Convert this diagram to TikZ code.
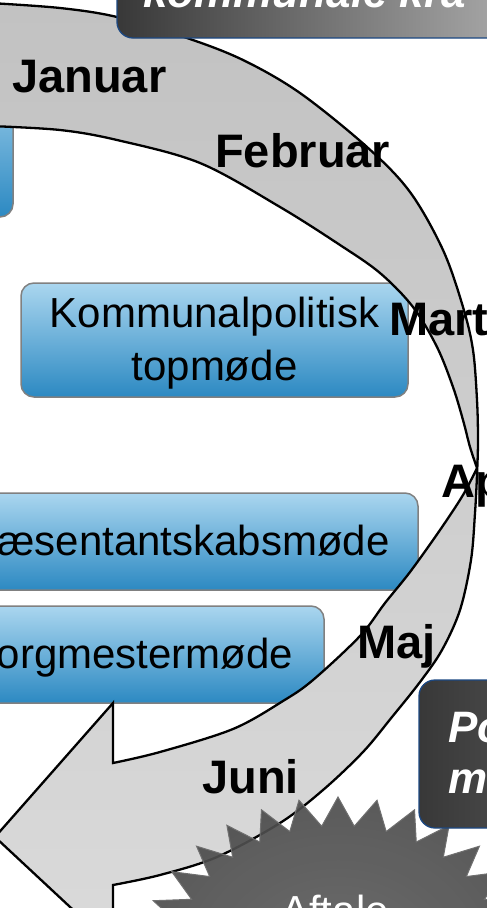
\documentclass[tikz,border=0pt]{standalone}
\usepackage{fontspec}
\setmainfont{Liberation Sans}
\definecolor{boxtop}{RGB}{170,214,239}
\definecolor{boxbot}{RGB}{44,137,194}
\definecolor{boxline}{RGB}{128,128,128}
\definecolor{arrtop}{RGB}{194,194,194}
\definecolor{arrbot}{RGB}{218,218,218}
\definecolor{darkl}{RGB}{56,56,56}
\definecolor{darkr}{RGB}{200,200,200}
\definecolor{darkrb}{RGB}{120,120,120}
\definecolor{navy}{RGB}{28,72,130}
\definecolor{starfill}{RGB}{76,76,76}
\definecolor{starin}{RGB}{96,96,96}
\definecolor{starline}{RGB}{112,112,112}
\begin{document}
\begin{tikzpicture}[x=1pt,y=-1pt,
  bluebox/.style={draw=boxline, line width=1.5pt, rounded corners=13pt, top color=boxtop, bottom color=boxbot, inner sep=0pt},
  darkbox/.style={draw=navy, line width=1.3pt, rounded corners=16pt, inner sep=0pt},
  month/.style={font=\fontsize{47}{56}\selectfont\bfseries, anchor=base west, inner sep=0pt},
  boxtext/.style={font=\fontsize{42}{50}\selectfont, anchor=base, inner sep=0pt},
  darktext/.style={font=\fontsize{44}{52}\selectfont\bfseries\itshape, text=white, anchor=base west, inner sep=0pt},
  startext/.style={font=\fontsize{42}{50}\selectfont, text=white, anchor=base, inner sep=0pt},
]
\useasboundingbox (0,0) rectangle (487,908);
\clip (0,0) rectangle (487,908);

% blue boxes
\node[bluebox, minimum width=313pt, minimum height=157pt] (b0) at (-143.5,138.5) {};
\node[bluebox, minimum width=387pt, minimum height=114pt] (b1) at (214.5,340) {};
\node[bluebox, minimum width=540pt, minimum height=97pt] (b2) at (148,541.5) {};
\node[bluebox, minimum width=386pt, minimum height=97pt] (b3) at (131,654.5) {};
\node[boxtext] (t1a) at (214.5,327) {Kommunalpolitisk};
\node[boxtext] (t1b) at (214.5,380) {topmøde};
\node[boxtext] (t2) at (148,555) {Repræsentantskabsmøde};
\node[boxtext] (t3) at (131,668) {Borgmestermøde};

% curved arrow
\draw[line width=2.3pt, top color=arrtop, bottom color=arrbot, line join=miter]
  plot[smooth, tension=0.55] coordinates {(-10,3) (60,8) (117,17) (187,38) (243,60) (300,93) (367,147) (410,192) (443,250) (463,307) (473,350) (477,400) (478,440) (477,475) (475,513) (471,560) (460,610) (442,650) (420,682) (392,717) (363,752) (323,790) (280,823) (217,857) (160,875) (113,885)}
  -- (113,947) -- (-5,837) -- (113,703) -- (113,763)
  -- plot[smooth, tension=0.55] coordinates {(113,763) (160,752) (233,729) (283,701) (313,680) (360,636) (385,603) (410,572) (440,530) (463,495) (477,468)}
  -- plot[smooth, tension=0.55] coordinates {(477,468) (470,447) (463,420) (453,387) (437,347) (413,307) (380,273) (340,245) (280,207) (200,163) (117,140) (60,130) (-10,126)}
  -- cycle;

% month labels
\node[month] (jan) at (12,92) {Januar};
\node[month] (feb) at (215,167) {Februar};
\node[month] (mar) at (389,335) {Mart};
\node[month] (apr) at (441,497) {Ap};
\node[month] (maj) at (357,658) {Maj};
\node[month] (jun) at (202,793) {Juni};

% starburst
\draw[draw=starline, line width=1pt, inner color=starin, outer color=starfill, fill opacity=0.92]
  plot[samples=64, domain=0:63, variable=\i]
  ({338+200*(1-0.17*mod(\i,2))*cos(90+\i*5.625)}, {965-168*(1-0.17*mod(\i,2))*sin(90+\i*5.625)}) -- cycle;
\node[startext] (aft) at (335,925) {Aftale};

% dark boxes
\node[darkbox, left color=darkl, right color=darkr, minimum width=503pt, minimum height=138pt] (hdr) at (368.5,-31) {};
\node[darktext] (hdrt) at (143,7) {kommunale kra};
\node[darkbox, left color=darkl, right color=darkrb, minimum width=341pt, minimum height=148pt] (pm) at (589.5,754) {};
\node[darktext] (pm1) at (448,742) {Po};
\node[darktext] (pm2) at (448,793) {m};
\end{tikzpicture}
\end{document}
